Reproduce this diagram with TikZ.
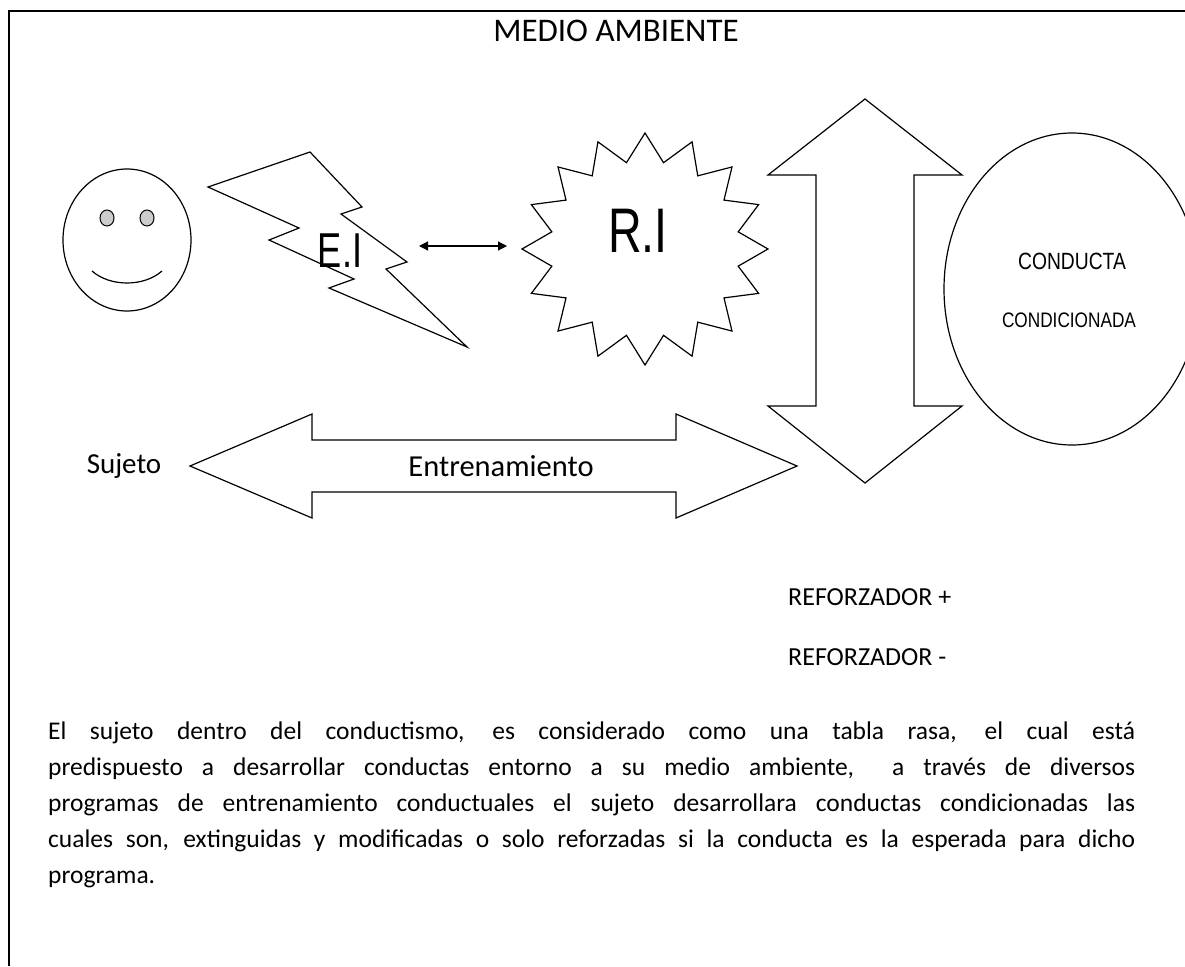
\documentclass[tikz,border=0pt]{standalone}
\usepackage{fontspec}
\setmainfont{Carlito}
\newfontfamily\narrowfont[FakeStretch=0.82]{Liberation Sans}
\newfontfamily\tallfont[FakeStretch=0.74]{Liberation Sans}
\usetikzlibrary{arrows.meta}

\newcommand{\fullline}[1]{\makebox[1087pt][s]{#1}}

\begin{document}
\begin{tikzpicture}[
    x=1pt, y=-1pt,
    outline/.style={draw, line width=1.2pt, line join=miter},
    txt/.style={inner sep=0pt, font=\fontsize{25.5}{36}\selectfont},
    narrow/.style={inner sep=0pt, font=\narrowfont},
    <->, >={Triangle[length=9pt, width=9pt]}
]
\useasboundingbox (0,0) rectangle (1185,966);
\clip (0,0) rectangle (1185,966);

% frame
\draw[-, line width=2pt] (9,966) -- (9,11) -- (1185,11);
\node[txt, font=\fontsize{33}{38}\selectfont] (title) at (616,31) {MEDIO AMBIENTE};

% sujeto (face)
\draw[outline] (127,240) ellipse [x radius=64, y radius=71];
\draw[outline, fill=gray!40, line width=1pt] (107,218) ellipse [x radius=7, y radius=8];
\draw[outline, fill=gray!40, line width=1pt] (147,218) ellipse [x radius=7, y radius=8];
\draw[outline, -] (92,271) .. controls (110,287) and (144,287) .. (162,271);

% estimulo (bolt)
\draw[outline] (208,187) -- (310,152) -- (362,207) -- (341,214) -- (407,262) -- (386,269)
    -- (467,347) -- (329,288) -- (354,279) -- (269,240) -- (299,228) -- cycle;
\node[narrow, font=\tallfont\fontsize{49}{52}\selectfont] (ei) at (340,251) {E.I};

% respuesta (star)
\draw[outline, shift={(645,249)}] plot[samples at={0,...,31}, variable=\k]
    ({90+11.25*\k}:{123-28*mod(\k,2)} and {116-28*mod(\k,2)}) -- cycle;
\node[narrow, font=\tallfont\fontsize{63}{66}\selectfont] (ri) at (638,231) {R.I};

\coordinate (ei arrow) at (419,246);
\coordinate (ri arrow) at (507,246);
\draw[line width=1.2pt] (ei arrow) -- (ri arrow);

% up-down arrow
\draw[outline] (865,99) -- (962,175) -- (914,175) -- (914,406) -- (962,406) -- (865,483)
    -- (768,406) -- (816,406) -- (816,175) -- (768,175) -- cycle;

% conducta
\draw[outline] (1072,289) ellipse [x radius=128, y radius=156];
\node[narrow, font=\narrowfont\fontsize{23.5}{26}\selectfont] (conducta) at (1072,261) {CONDUCTA};
\node[narrow, font=\narrowfont\fontsize{21}{24}\selectfont] (condicionada) at (1069,320) {CONDICIONADA};

% entrenamiento
\draw[outline] (190,466) -- (312,414) -- (312,440) -- (676,440) -- (676,414) -- (797,466)
    -- (676,518) -- (676,492) -- (312,492) -- (312,518) -- cycle;
\node[txt, font=\fontsize{30.5}{34}\selectfont] (entrenamiento) at (501,466) {Entrenamiento};
\node[txt, font=\fontsize{29}{32}\selectfont] (sujeto) at (124,466) {Sujeto};

\node[txt, font=\fontsize{26}{30}\selectfont, anchor=west] (refmas) at (788,597) {REFORZADOR +};
\node[txt, font=\fontsize{26}{30}\selectfont, anchor=west] (refmenos) at (788,657) {REFORZADOR -};

% texto
\node[txt, anchor=north west, align=left] (texto) at (48,722) {%
\fullline{El sujeto dentro del conductismo, es considerado como una tabla rasa, el cual está}\\
\fullline{predispuesto a desarrollar conductas entorno a su medio ambiente,\ \ a través de diversos}\\
\fullline{programas de entrenamiento conductuales el sujeto desarrollara conductas condicionadas las}\\
\fullline{cuales son, extinguidas y modificadas o solo reforzadas si la conducta es la esperada para dicho}\\
programa.};
\end{tikzpicture}
\end{document}
